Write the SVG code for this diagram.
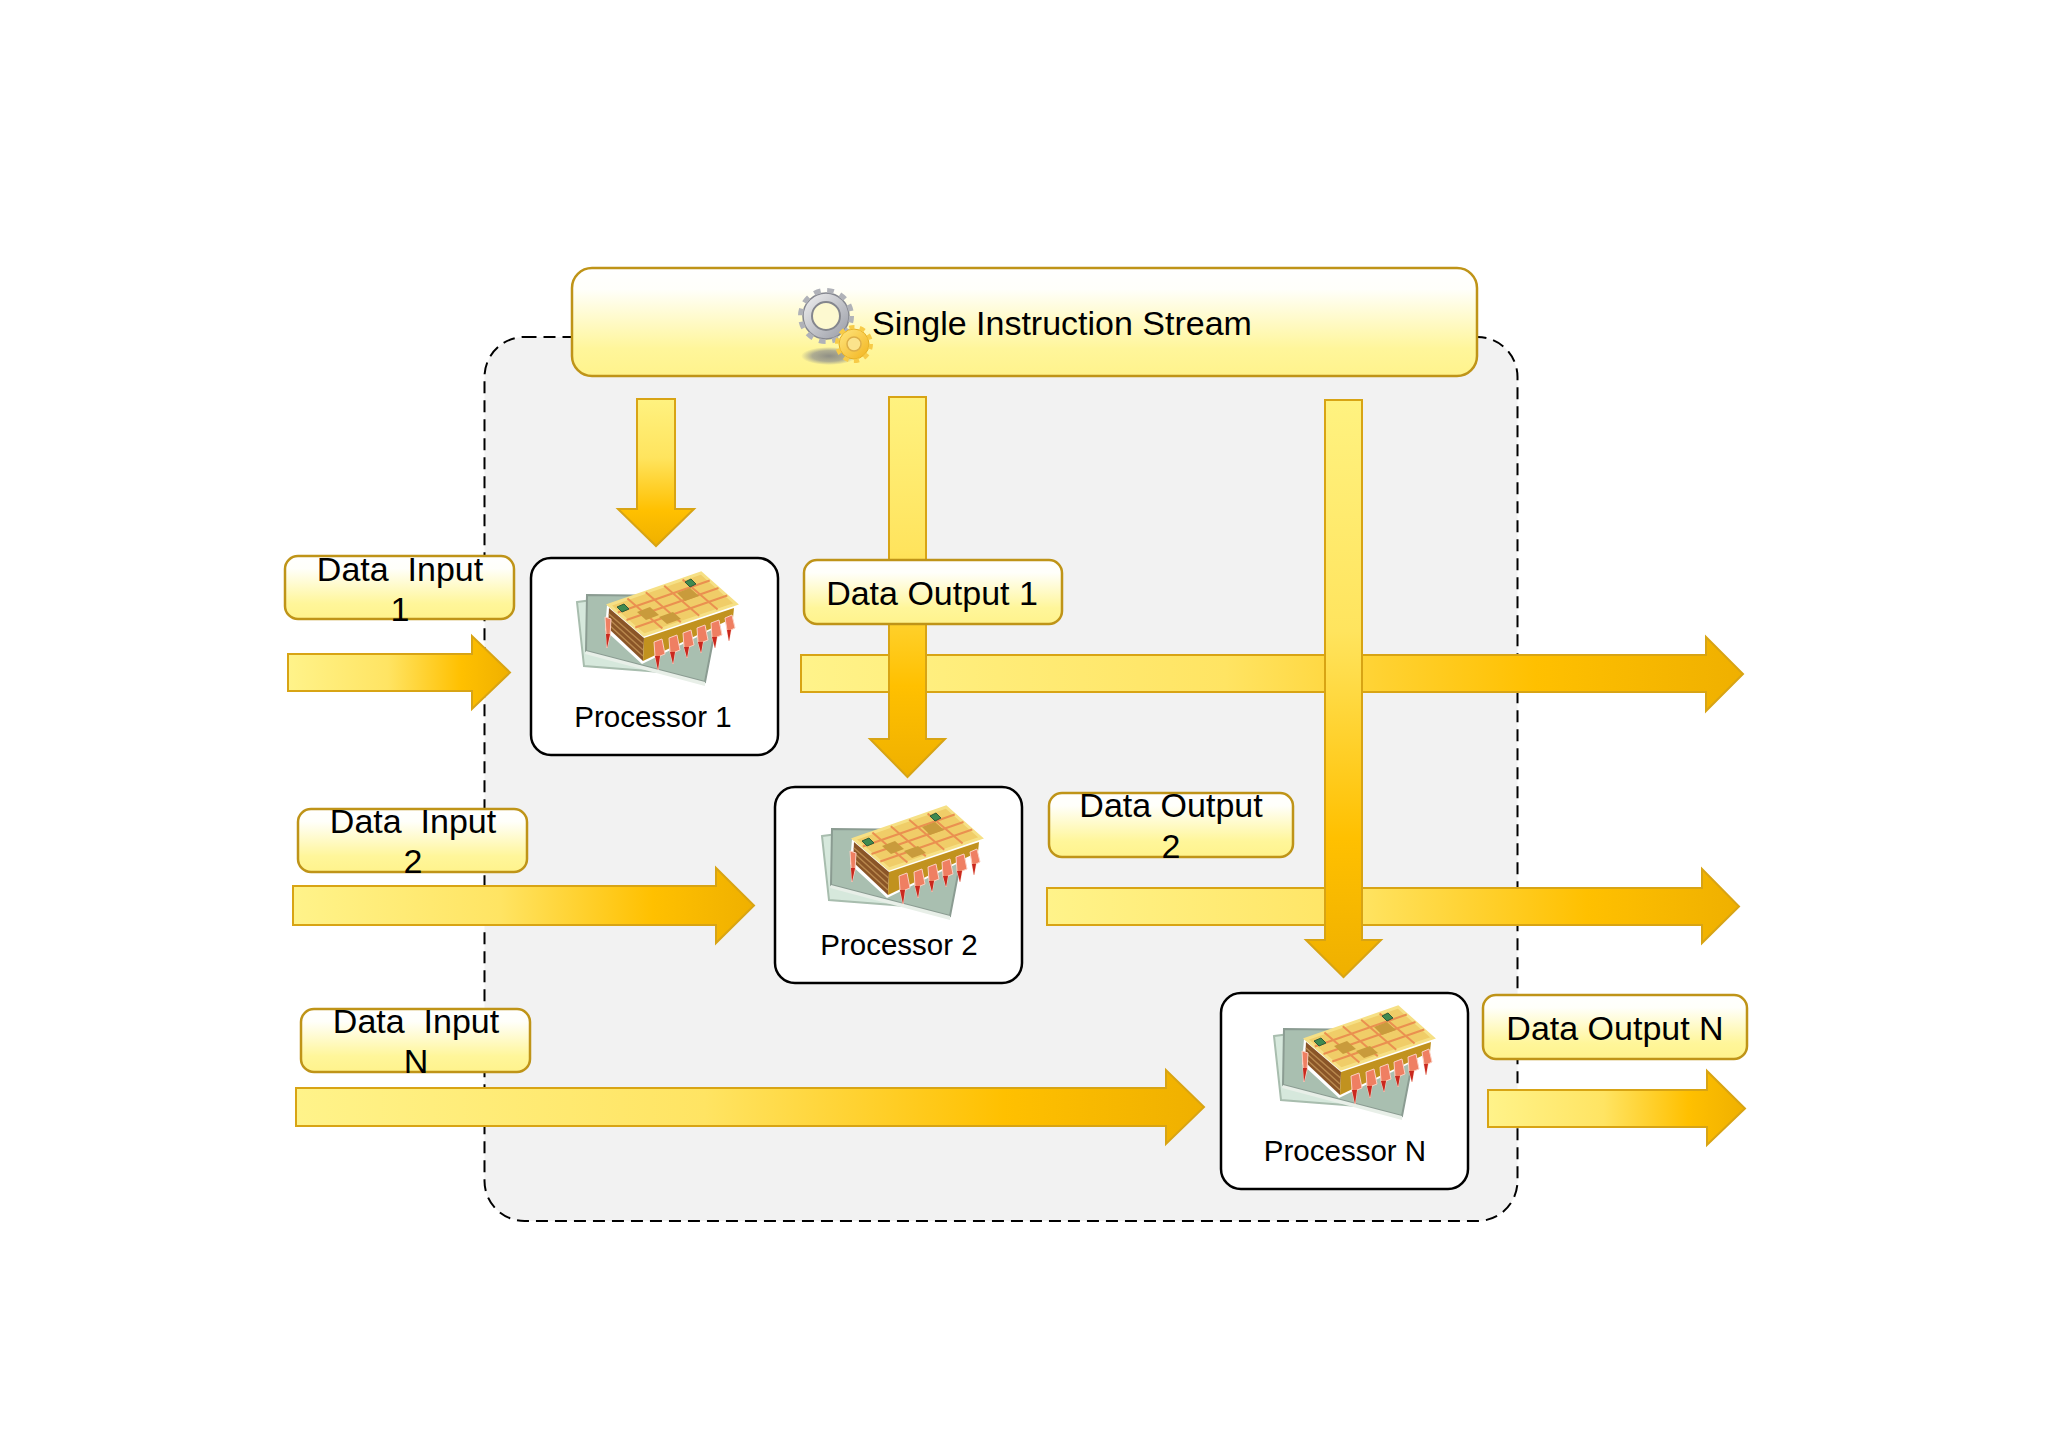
<svg xmlns="http://www.w3.org/2000/svg" width="2048" height="1448" viewBox="0 0 2048 1448">
<style>
text{font-family:"Liberation Sans",Arial,sans-serif;fill:#000;text-anchor:middle;white-space:pre}
.l{font-size:34px}
.p{font-size:29.5px}
.label{fill:url(#lab);stroke:#bf9418;stroke-width:2.5}
.ar{fill:url(#arH);stroke:#d8a414;stroke-width:2}
.ad{fill:url(#arV);stroke:#d8a414;stroke-width:2}
.proc{fill:#fff;stroke:#000;stroke-width:2.5}
</style>
<defs>
<linearGradient id="lab" x1="0" y1="0" x2="0" y2="1"><stop offset="0" stop-color="#fff"/><stop offset=".2" stop-color="#fffffa"/><stop offset=".75" stop-color="#fff69a"/><stop offset="1" stop-color="#fff38c"/></linearGradient>
<linearGradient id="arH" x1="0" y1="0" x2="1" y2="0"><stop offset="0" stop-color="#fff38a"/><stop offset=".45" stop-color="#ffe463"/><stop offset=".78" stop-color="#ffc000"/><stop offset="1" stop-color="#efb000"/></linearGradient>
<linearGradient id="arV" x1="0" y1="0" x2="0" y2="1"><stop offset="0" stop-color="#fff280"/><stop offset=".4" stop-color="#ffe45e"/><stop offset=".76" stop-color="#ffc000"/><stop offset="1" stop-color="#efb000"/></linearGradient>
<radialGradient id="sh"><stop offset="0" stop-color="#8f8f85"/><stop offset=".6" stop-color="#9a9a90" stop-opacity=".8"/><stop offset="1" stop-color="#9a9a90" stop-opacity="0"/></radialGradient>
<linearGradient id="gg" x1="0" y1="0" x2="1" y2="1"><stop offset="0" stop-color="#f2f2f2"/><stop offset="1" stop-color="#979aa4"/></linearGradient>
<linearGradient id="gy" x1="0" y1="0" x2="1" y2="1"><stop offset="0" stop-color="#ffe680"/><stop offset="1" stop-color="#f2b41e"/></linearGradient>
<g id="chip">
<polygon points="576,600 600,597 596,650 660,670 583,664" fill="#d6e8dc" stroke="#a8bdae" stroke-width="2"/>
<polygon points="586,593 680,594 714,628 704,680 585,649" fill="#a9bfb0" stroke="#8b9c92" stroke-width="2"/>
<polygon points="704,680 585,649 584,652 704,684" fill="#e8efe8"/>
<polygon points="606,603 643,633 736,602 735,616 641,662 604,628" fill="#fff"/>
<polygon points="608,606 643,636 642,659 607,626" fill="#8a5527"/>
<path d="M608 612 642.500 642M608 617 642 648M607 622 642 654" stroke="#b9884e" stroke-width="1.500" fill="none"/>
<polygon points="643,636 733,606 732,616 642,659" fill="#c1921f"/>
<polygon points="608,603 700,571 735,602 643,633" fill="#f0cd68" stroke="#f6e085" stroke-width="3"/>
<g stroke="#ea9050" stroke-width="2" fill="none" transform="translate(-2 0)">
<path d="M618.750 610.500 710.750 578.500M627.500 618 719.500 586M636.250 625.500 728.250 593.500M628.400 596.600 663.400 626.600M646.800 590.200 681.800 620.200M665.200 583.800 700.200 613.800M683.600 577.400 718.600 607.400"/>
</g>
<g fill="#c99b3c" transform="translate(-2 0)">
<polygon points="638,610 651,605 660,613 647,618"/>
<polygon points="660,615 674,610 682,617 668,622"/>
<polygon points="678,591 691,586 700,594 686,599"/>
</g>
<g fill="#3f8a50" stroke="#2d5b38" transform="translate(-2 0)">
<polygon points="618,605 625,602 630,607 623,610"/>
<polygon points="686,580 692,577 697,582 691,585"/>
</g>
<g transform="translate(-2 4)">
<g fill="#ef7f62" stroke="#fbd0c2" stroke-width="1">
<polygon points="606,611 612,613 611,630 608,642"/>
<polygon points="655,636 663,633 666,648 661,650 659,664 656,650"/>
<polygon points="670,632 678,629 681,644 676,646 674,658 671,646"/>
<polygon points="684,627 692,624 695,639 690,641 688,652 685,641"/>
<polygon points="698,622 706,619 709,634 704,636 702,647 699,636"/>
<polygon points="712,617 720,614 723,629 718,631 716,642 713,631"/>
<polygon points="726,612 733,609 736,622 732,624 730,635 728,624"/>
</g>
<g fill="#c9281e">
<polygon points="607,628 611,628 608,642"/>
<polygon points="656,650 661,650 659,664"/>
<polygon points="671,646 676,646 674,658"/>
<polygon points="685,641 690,641 688,652"/>
<polygon points="699,636 704,636 702,647"/>
<polygon points="713,631 718,631 716,642"/>
<polygon points="728,624 732,624 730,635"/>
</g>
</g>
</g>
</defs>
<rect width="2048" height="1448" fill="#fff"/>
<g id="container"><rect x="484.500" y="337" width="1033" height="884" rx="40" fill="#f2f2f2" stroke="#000" stroke-width="2" stroke-dasharray="12 7"/></g>
<g id="connectors">
<polygon class="ar" points="288,654 472,654 472,636 510,672.500 472,709 472,691 288,691"/>
<polygon class="ar" points="293,886 716,886 716,868 754,905.500 716,943 716,925 293,925"/>
<polygon class="ar" points="296,1088 1166,1088 1166,1070 1204,1107 1166,1144 1166,1126 296,1126"/>
<polygon class="ar" points="801,655 1706,655 1706,637 1743,674 1706,711 1706,692 801,692"/>
<polygon class="ar" points="1047,888 1702,888 1702,869 1739,906.500 1702,943 1702,925 1047,925"/>
<polygon class="ar" points="1488,1090 1707,1090 1707,1071 1745,1108.500 1707,1145 1707,1127 1488,1127"/>
<polygon class="ad" points="637,399 675,399 675,509 694,509 656,546 618,509 637,509"/>
<polygon class="ad" points="889,397 926,397 926,739 945,739 907.500,777 870,739 889,739"/>
<polygon class="ad" points="1325,400 1362,400 1362,940 1381,940 1343.500,977 1306,940 1325,940"/>
</g>
<g id="instruction-stream">
<rect class="label" x="572" y="268" width="905" height="108" rx="20"/>
<ellipse cx="829" cy="356" rx="28" ry="9" fill="url(#sh)"/>
<circle cx="826" cy="316" r="23" fill="url(#gg)" stroke="#85878f" stroke-width="1.500"/>
<circle cx="826" cy="316" r="25.500" fill="none" stroke="#b0b2b8" stroke-width="5" stroke-dasharray="6.700 6.700"/>
<circle cx="826" cy="316" r="14" fill="#fdf9d0" stroke="#84868d" stroke-width="2"/>
<circle cx="854" cy="344" r="15" fill="url(#gy)" stroke="#e5ae22" stroke-width="1"/>
<circle cx="854" cy="344" r="17" fill="none" stroke="#f7cb48" stroke-width="4" stroke-dasharray="5.300 5.380"/>
<circle cx="854" cy="344" r="7" fill="#fbe38c" stroke="#dcae48" stroke-width="1.500"/>
<text class="l" x="1062" y="335">Single Instruction Stream</text>
</g>
<g id="proc1"><rect class="proc" x="531" y="558" width="247" height="197" rx="20"/><use href="#chip" transform="translate(1 2)"/><text class="p" x="653" y="727">Processor 1</text></g>
<g id="proc2"><rect class="proc" x="775" y="787" width="247" height="196" rx="20"/><use href="#chip" transform="translate(246 236)"/><text class="p" x="899" y="955">Processor 2</text></g>
<g id="procN"><rect class="proc" x="1221" y="993" width="247" height="196" rx="20"/><use href="#chip" transform="translate(698 436)"/><text class="p" x="1345" y="1161">Processor N</text></g>
<g id="input1"><rect class="label" x="285" y="556" width="229" height="63" rx="13"/><text class="l" x="400" y="581">Data  Input</text><text class="l" x="400" y="621">1</text></g>
<g id="input2"><rect class="label" x="298" y="809" width="229" height="63" rx="13"/><text class="l" x="413" y="833">Data  Input</text><text class="l" x="413" y="873">2</text></g>
<g id="inputN"><rect class="label" x="301" y="1009" width="229" height="63" rx="13"/><text class="l" x="416" y="1033">Data  Input</text><text class="l" x="416" y="1073">N</text></g>
<g id="output1"><rect class="label" x="804" y="560" width="258" height="64" rx="13"/><text class="l" x="932" y="605">Data Output 1</text></g>
<g id="output2"><rect class="label" x="1049" y="793" width="244" height="64" rx="13"/><text class="l" x="1171" y="817">Data Output</text><text class="l" x="1171" y="858">2</text></g>
<g id="outputN"><rect class="label" x="1483" y="995" width="264" height="64" rx="13"/><text class="l" x="1615" y="1040">Data Output N</text></g>
</svg>
